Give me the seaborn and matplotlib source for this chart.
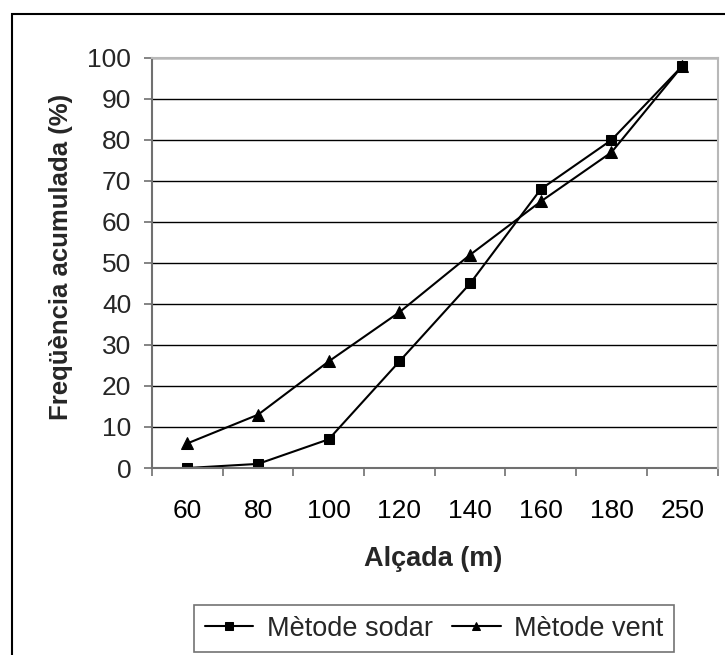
import matplotlib
matplotlib.use('Agg')
import matplotlib.pyplot as plt
import numpy as np
import pandas as pd
import seaborn as sns
from matplotlib.patches import Rectangle
from matplotlib.ticker import FixedLocator, NullFormatter

# data
alcada = ['60', '80', '100', '120', '140', '160', '180', '250']
sodar = [0, 1, 7, 26, 45, 68, 80, 98]
vent = [6, 13, 26, 38, 52, 65, 77, 98]

sns.set_style('white')
plt.rcParams['font.family'] = ['Liberation Sans', 'DejaVu Sans']

fig = plt.figure(figsize = (7.25, 6.55), dpi = 100)
ax = fig.add_axes([152 / 725, 1 - 468 / 655, 565.5 / 725, 410 / 655])

df = pd.DataFrame({'Alçada': alcada, 'sodar': sodar, 'vent': vent})
sns.lineplot(data = df, x = 'Alçada', y = 'sodar', ax = ax, color = 'black', linewidth = 1.5,
             marker = 's', markersize = 7.5, markeredgecolor = 'black', label = 'Mètode sodar', legend = False)
sns.lineplot(data = df, x = 'Alçada', y = 'vent', ax = ax, color = 'black', linewidth = 1.5,
             marker = '^', markersize = 8, markeredgecolor = 'black', label = 'Mètode vent', legend = False)

ax.set_xlim(-0.5, len(alcada) - 0.5)
ax.set_ylim(0, 100)
ax.set_yticks(np.arange(0, 101, 10))
ax.yaxis.grid(True, color = 'black', linewidth = 1.0)
ax.xaxis.grid(False)

# category ticks between the groups, labels at the centres
ax.set_xticks(range(len(alcada)))
ax.set_xticklabels(alcada)
ax.xaxis.set_minor_locator(FixedLocator(np.arange(-0.5, len(alcada), 1)))
ax.xaxis.set_minor_formatter(NullFormatter())
ax.tick_params(axis = 'x', which = 'major', length = 0, pad = 22, labelsize = 19, colors = 'black')
ax.tick_params(axis = 'x', which = 'minor', length = 6, width = 1.2, color = '#707070', direction = 'out', bottom = True)
ax.tick_params(axis = 'y', length = 6, width = 1.2, color = '#707070', direction = 'out', left = True, pad = 9, labelsize = 19)

for side in ['left', 'bottom']:
    ax.spines[side].set_color('#707070')
    ax.spines[side].set_linewidth(1.5)
for side in ['top', 'right']:
    ax.spines[side].set_color('#b8b8b8')
    ax.spines[side].set_linewidth(1.5)
    ax.spines[side].set_zorder(3)

ax.set_xlabel('Alçada (m)', fontsize = 19.5, fontweight = 'bold')
ax.set_ylabel('Freqüència acumulada (%)', fontsize = 18.5, fontweight = 'bold')
ax.xaxis.set_label_coords(0.497, -0.19)
ax.yaxis.set_label_coords(-0.14, 0.515)

handles, labels = ax.get_legend_handles_labels()
leg = fig.legend(handles, labels, loc = 'center', bbox_to_anchor = (434 / 725, 1 - 628.5 / 655), ncol = 2,
                 fontsize = 19.5, frameon = True, fancybox = False, edgecolor = '#505050', markerscale = 0.7,
                 handlelength = 1.8, handletextpad = 0.5, columnspacing = 0.7, borderpad = 0.4)
leg.get_frame().set_linewidth(1.2)

# outer chart border, running off the right and bottom of the image
fig.patches.append(Rectangle((12 / 725, -0.2), 1.2, 0.2 + 1 - 14 / 655, transform = fig.transFigure,
                             fill = False, edgecolor = 'black', linewidth = 1.5, clip_on = False))

plt.savefig('out.png', dpi = 100)
